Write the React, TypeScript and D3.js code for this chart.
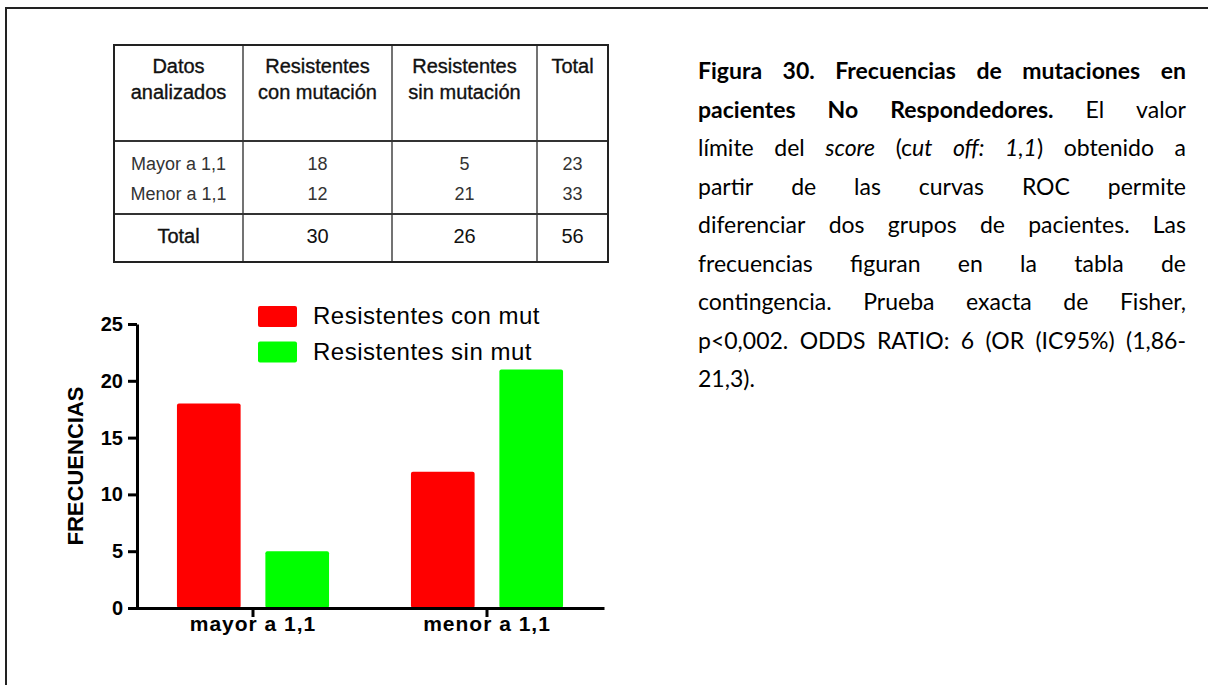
import React, { useEffect, useRef } from "react";
import * as d3 from "d3";

// datos del gráfico / tabla
const categories = ["mayor a 1,1", "menor a 1,1"];
const series = ["Resistentes con mut", "Resistentes sin mut"];
const conMutacion = [18, 12];
const sinMutacion = [5, 21];
const yTicks = [0, 5, 10, 15, 20, 25];
const colors = ["#ff0000", "#00ff00"];

const tableHeader = [
  ["Datos", "analizados"],
  ["Resistentes", "con mutación"],
  ["Resistentes", "sin mutación"],
  ["Total"],
];
const rowLabels = ["Mayor a 1,1", "Menor a 1,1"];

// texto de la figura: *negrita*, _cursiva_
const captionLines = [
  "*Figura 30. Frecuencias de mutaciones en*",
  "*pacientes No Respondedores.* El valor",
  "límite del _score_ (c_ut off: 1,1_) obtenido a",
  "partir de las curvas ROC permite",
  "diferenciar dos grupos de pacientes. Las",
  "frecuencias figuran en la tabla de",
  "contingencia. Prueba exacta de Fisher,",
  "p<0,002. ODDS RATIO: 6 (OR (IC95%) (1,86-",
  "21,3).",
];

const W = 1208;
const H = 685;
const ARIAL = "'Liberation Sans', Arial, sans-serif";
const CALIBRI = "Lato, Carlito, Calibri, sans-serif";

type Run = { t: string; b: boolean; i: boolean };

// separa una línea en palabras, cada palabra en tramos con estilo
const parseLine = (line: string): Run[][] => {
  const words: Run[][] = [];
  let b = false;
  let i = false;
  let cur: Run[] = [];
  for (const ch of line) {
    if (ch === "*") { b = !b; continue; }
    if (ch === "_") { i = !i; continue; }
    if (ch === " ") {
      if (cur.length) words.push(cur);
      cur = [];
      continue;
    }
    const last = cur[cur.length - 1];
    if (last && last.b === b && last.i === i) last.t += ch;
    else cur.push({ t: ch, b, i });
  }
  if (cur.length) words.push(cur);
  return words;
};

export default function App() {
  const ref = useRef<SVGSVGElement>(null);

  useEffect(() => {
    const svg = d3.select(ref.current);
    svg.selectAll("*").remove();

    // marco exterior
    svg.append("rect")
      .attr("x", 6).attr("y", 8)
      .attr("width", 1300).attr("height", 800)
      .attr("fill", "none").attr("stroke", "#222").attr("stroke-width", 2);

    // ---- tabla ----
    const colX = [114, 243, 392, 537, 608];
    const rowY = { top: 45, head: 141, total: 214, bottom: 262 };
    const table = svg.append("g").attr("font-family", ARIAL).attr("text-anchor", "middle");
    const colMid = d3.range(4).map((c) => (colX[c] + colX[c + 1]) / 2);

    colX.slice(1, 4).forEach((x) =>
      table.append("line").attr("x1", x).attr("x2", x).attr("y1", rowY.top).attr("y2", rowY.bottom)
        .attr("stroke", "#444").attr("stroke-width", 1.5)
    );
    [rowY.head, rowY.total].forEach((y) =>
      table.append("line").attr("x1", colX[0]).attr("x2", colX[4]).attr("y1", y).attr("y2", y)
        .attr("stroke", "#333").attr("stroke-width", 2)
    );
    table.append("rect")
      .attr("x", colX[0]).attr("y", rowY.top)
      .attr("width", colX[4] - colX[0]).attr("height", rowY.bottom - rowY.top)
      .attr("fill", "none").attr("stroke", "#222").attr("stroke-width", 2);

    tableHeader.forEach((lines, c) =>
      lines.forEach((t, k) =>
        table.append("text").attr("x", colMid[c]).attr("y", 73 + k * 26)
          .attr("font-size", 20)
          .attr("fill", "#111").attr("stroke", "#111").attr("stroke-width", 0.35).text(t)
      )
    );
    const rowsData = rowLabels.map((lab, r) => [lab, conMutacion[r], sinMutacion[r], conMutacion[r] + sinMutacion[r]]);
    rowsData.forEach((row, r) =>
      row.forEach((v, c) =>
        table.append("text").attr("x", colMid[c]).attr("y", 170 + r * 30)
          .attr("font-size", 18)
          .attr("fill", "#333").text(String(v))
      )
    );
    const totals = ["Total", d3.sum(conMutacion), d3.sum(sinMutacion), d3.sum(conMutacion) + d3.sum(sinMutacion)];
    totals.forEach((v, c) =>
      table.append("text").attr("x", colMid[c]).attr("y", 243)
        .attr("font-size", 20)
        .attr("fill", "#111").attr("stroke", c === 0 ? "#111" : "none").attr("stroke-width", 0.35).text(String(v))
    );

    // ---- gráfico de barras ----
    const x0 = d3.scaleBand().domain(categories).range([136, 604]).paddingInner(0.35).paddingOuter(0.175);
    const x1 = d3.scaleBand().domain(series).range([0, x0.bandwidth()]).paddingInner(0.28);
    const y = d3.scaleLinear().domain([0, 25]).range([608, 324]);
    const values = [conMutacion, sinMutacion];

    const chart = svg.append("g").attr("font-family", ARIAL);

    categories.forEach((cat, ci) => {
      series.forEach((s, si) => {
        const v = values[si][ci];
        chart.append("rect")
          .attr("x", x0(cat)! + x1(s)!)
          .attr("y", y(v))
          .attr("width", x1.bandwidth())
          .attr("height", y(0) - y(v))
          .attr("rx", 2)
          .attr("fill", colors[si]);
      });
    });

    const yAxis = d3.axisLeft(y).tickValues(yTicks).tickSize(9).tickSizeOuter(0).tickPadding(5);
    const gy = chart.append("g").attr("transform", "translate(137,0)").call(yAxis);
    gy.select(".domain").attr("stroke", "#000").attr("stroke-width", 3);
    gy.selectAll(".tick line").attr("stroke", "#000").attr("stroke-width", 3);
    gy.selectAll(".tick text")
      .attr("font-family", ARIAL).attr("font-size", 20).attr("font-weight", "bold").attr("fill", "#000");

    const xAxis = d3.axisBottom(x0).tickSize(9).tickSizeOuter(0);
    const gx = chart.append("g").attr("transform", `translate(0,${y(0)})`).call(xAxis);
    gx.select(".domain").attr("stroke", "#000").attr("stroke-width", 3);
    gx.selectAll(".tick line").attr("stroke", "#000").attr("stroke-width", 3);
    gx.selectAll(".tick text")
      .attr("y", 23).attr("dy", 0)
      .attr("font-family", ARIAL).attr("font-size", 21).attr("font-weight", "bold")
      .attr("letter-spacing", 1).attr("fill", "#000");

    chart.append("text")
      .attr("transform", "translate(83,466) rotate(-90)")
      .attr("text-anchor", "middle")
      .attr("font-size", 22).attr("font-weight", "bold")
      .text("FRECUENCIAS");

    // leyenda
    const legend = chart.append("g");
    series.forEach((s, i) => {
      legend.append("rect")
        .attr("x", 258).attr("y", 306 + i * 35.5)
        .attr("width", 39).attr("height", 21).attr("rx", 2)
        .attr("fill", colors[i]);
      legend.append("text")
        .attr("x", 313).attr("y", 324 + i * 36)
        .attr("font-size", 24).attr("letter-spacing", 0.5).attr("fill", "#000")
        .text(s);
    });

    // ---- texto justificado ----
    const capX0 = 698;
    const capX1 = 1186;
    const cap = svg.append("g").attr("font-family", CALIBRI).attr("font-size", 23).attr("fill", "#000");
    captionLines.forEach((line, li) => {
      const words = parseLine(line);
      const baseY = 79 + li * 38.5;
      const nodes = words.map((w) => {
        const t = cap.append("text").attr("y", baseY);
        w.forEach((run) =>
          t.append("tspan")
            .attr("font-weight", run.b ? "bold" : "normal")
            .attr("font-style", run.i ? "italic" : "normal")
            .text(run.t)
        );
        return { t, w: (t.node() as SVGTextElement).getComputedTextLength() };
      });
      const total = d3.sum(nodes, (n) => n.w);
      const last = li === captionLines.length - 1;
      const gap = last || nodes.length < 2 ? 6 : (capX1 - capX0 - total) / (nodes.length - 1);
      let cx = capX0;
      nodes.forEach((n) => {
        n.t.attr("x", cx);
        cx += n.w + gap;
      });
    });
  }, []);

  return (
    <svg
      ref={ref}
      width={W}
      height={H}
      style={{ position: "absolute", left: 0, top: 0, display: "block", background: "#fff" }}
    />
  );
}
